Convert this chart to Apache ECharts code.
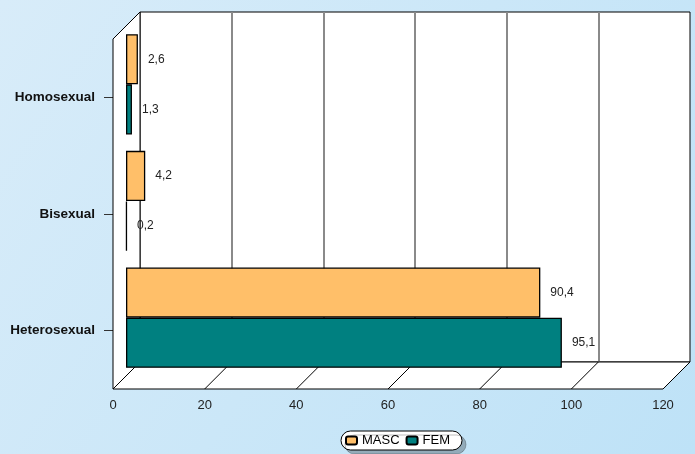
<!DOCTYPE html>
<html><head><meta charset="utf-8">
<script src="https://cdn.jsdelivr.net/npm/echarts@6/dist/echarts.min.js"></script>
<style>html,body{margin:0;padding:0;}#c{width:695px;height:454px;}</style>
</head><body><div id="c"></div>
<script>
// ---- data ----
const categories = ['Homosexual', 'Bisexual', 'Heterosexual'];
const seriesNames = ['MASC', 'FEM'];
const mascValues = [2.6, 4.2, 90.4];
const femValues = [1.3, 0.2, 95.1];
const xTickValues = [0, 20, 40, 60, 80, 100, 120];

// ---- layout (pseudo-3D frame) ----
const FX = 113, FY = 39, W = 550, H = 350, D = 27, MID = 13;
const BX = FX + D, BY = FY - D;
const XMAX = 120;
const FONT = '"Liberation Sans", Arial, sans-serif';

const frame = [];
// left wall
frame.push({ type: 'polygon', z: 1, shape: { points: [[FX, FY], [BX, BY], [BX, BY + H], [FX, FY + H]] },
  style: { fill: '#fff', stroke: '#000', lineWidth: 1 } });
// floor
frame.push({ type: 'polygon', z: 1, shape: { points: [[FX, FY + H], [FX + W, FY + H], [BX + W, BY + H], [BX, BY + H]] },
  style: { fill: '#fff', stroke: '#000', lineWidth: 1 } });
xTickValues.forEach(v => {
  const dx = v / XMAX * W;
  frame.push({ type: 'line', z: 1, shape: { x1: FX + dx, y1: FY + H, x2: BX + dx, y2: BY + H },
    style: { stroke: '#000', lineWidth: 1 } });
});

const fmt = p => String(p.value).replace('.', ',');
const labelCfg = { show: true, position: 'right', distance: 10, formatter: fmt, color: '#222', fontSize: 12, fontFamily: FONT };

const chart = echarts.init(document.getElementById('c'));
chart.setOption({
  backgroundColor: { type: 'linear', x: 0, y: 0, x2: 1, y2: 1,
    colorStops: [{ offset: 0, color: '#d8ecf9' }, { offset: 1, color: '#bee2f7' }] },
  textStyle: { fontFamily: FONT },
  animation: false,
  grid: [
    { left: BX, top: BY, width: W, height: H, show: true, backgroundColor: '#fff', borderColor: '#000', borderWidth: 1, z: 0 },
    { left: FX, top: FY, width: W, height: H },
    { left: FX + MID, top: FY - MID, width: W, height: H }
  ],
  xAxis: [
    { type: 'value', gridIndex: 0, min: 0, max: XMAX, interval: 20,
      axisLine: { show: false }, axisTick: { show: false }, axisLabel: { show: false },
      splitLine: { show: true, showMinLine: false, showMaxLine: false, lineStyle: { color: '#8a8a8a', width: 2 } } },
    { type: 'value', gridIndex: 1, min: 0, max: XMAX, interval: 20,
      axisLine: { show: false }, axisTick: { show: false }, splitLine: { show: false },
      axisLabel: { show: true, fontSize: 13, color: '#222', margin: 10, fontFamily: FONT } },
    { type: 'value', gridIndex: 2, min: 0, max: XMAX, interval: 20, show: false, splitLine: { show: false } }
  ],
  yAxis: [
    { type: 'category', gridIndex: 0, data: categories, inverse: true, show: false },
    { type: 'category', gridIndex: 1, data: categories, inverse: true,
      axisLine: { show: false },
      axisTick: { show: true, alignWithLabel: true, length: 9, lineStyle: { color: '#333' } },
      axisLabel: { fontSize: 13.5, fontWeight: 'bold', color: '#111', margin: 18, fontFamily: FONT } },
    { type: 'category', gridIndex: 2, data: categories, inverse: true, show: false }
  ],
  legend: {
    data: seriesNames, left: 341, top: 431, orient: 'horizontal',
    itemWidth: 11, itemHeight: 8, itemGap: 6,
    textStyle: { fontSize: 13, color: '#000', fontFamily: FONT },
    backgroundColor: '#fff', borderColor: '#000', borderWidth: 1, borderRadius: 10,
    padding: [3, 12, 3, 4],
    shadowColor: 'rgba(0,0,0,0.25)', shadowOffsetX: 4, shadowOffsetY: 4, shadowBlur: 0
  },
  graphic: frame,
  series: [
    { name: seriesNames[0], type: 'bar', xAxisIndex: 2, yAxisIndex: 2, data: mascValues, z: 5,
      barGap: '0%', barCategoryGap: '14%',
      itemStyle: { color: '#ffbf69', borderColor: '#000', borderWidth: 1.3 }, label: labelCfg },
    { name: seriesNames[1], type: 'bar', xAxisIndex: 2, yAxisIndex: 2, data: femValues, z: 5,
      barGap: '0%', barCategoryGap: '14%',
      itemStyle: { color: '#008080', borderColor: '#000', borderWidth: 1.3 }, label: labelCfg }
  ]
});
</script></body></html>
